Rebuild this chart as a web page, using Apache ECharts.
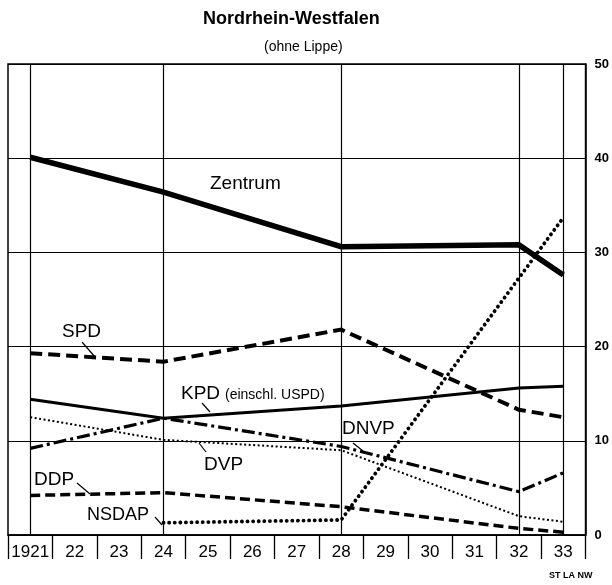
<!DOCTYPE html>
<html>
<head>
<meta charset="utf-8">
<script src="https://cdn.jsdelivr.net/npm/echarts@6/dist/echarts.min.js"></script>
<style>
html,body{margin:0;padding:0;background:#fff;}
#chart{width:612px;height:585px;}
</style>
</head>
<body>
<div id="chart"></div>
<script>
var years = ['1921','22','23','24','25','26','27','28','29','30','31','32','33'];
var gridYears = ['1921','24','28','32','33'];
var yTicks = [0, 10, 20, 30, 40, 50];

var zentrum = [40.1, null, null, 36.4, null, null, null, 30.6, null, null, null, 30.8, 27.6];
var spd     = [19.3, null, null, 18.4, null, null, null, 21.8, null, null, null, 13.3, 12.5];
var kpd     = [14.4, null, null, 12.4, null, null, null, 13.7, null, null, null, 15.6, 15.8];
var dnvp    = [9.2,  null, null, 12.4, null, null, null, 9.4,  null, null, null, 4.6,  6.6];
var dvp     = [12.5, null, null, 10.1, null, null, null, 9.0,  null, null, null, 2.0,  1.4];
var ddp     = [4.2,  null, null, 4.5,  null, null, null, 3.0,  null, null, null, 0.7,  0.3];
var nsdap   = [null, null, null, 1.3,  null, null, null, 1.6,  null, null, null, null, 33.7];

var FONT = 'Liberation Sans, Arial, sans-serif';

function lineSeries(name, data, width, type, cap, z) {
  return {
    name: name, type: 'line', data: data, connectNulls: true,
    symbol: 'none', silent: true, animation: false, z: z || 3,
    lineStyle: { color: '#000', width: width, type: type, cap: cap || 'butt', join: 'miter' }
  };
}

var chart = echarts.init(document.getElementById('chart'), null, {renderer: 'canvas'});

function txt(x, y, s, size, weight, align) {
  return { type: 'text', left: x, top: y, silent: true,
    style: { text: s, fill: '#000', font: (weight || 'normal') + ' ' + size + 'px ' + FONT, textAlign: align || 'left' } };
}
function seg(x1, y1, x2, y2) {
  return { type: 'line', silent: true, shape: {x1: x1, y1: y1, x2: x2, y2: y2}, style: {stroke: '#000', lineWidth: 1.2} };
}

var option = {
  backgroundColor: '#fff',
  animation: false,
  title: [
    { text: 'Nordrhein-Westfalen', left: 198, top: 5,
      textStyle: { fontFamily: FONT, fontWeight: 'bold', fontSize: 18, color: '#000' } },
    { text: '(ohne Lippe)', left: 259, top: 35,
      textStyle: { fontFamily: FONT, fontWeight: 'normal', fontSize: 14, color: '#000' } }
  ],
  grid: { left: 8, right: 26, top: 64, bottom: 50, show: true, borderColor: '#000', borderWidth: 1.5, backgroundColor: 'transparent' },
  xAxis: {
    type: 'category', data: years, boundaryGap: true,
    axisLine: { show: true, lineStyle: { color: '#000', width: 1.5 } },
    axisTick: { show: true, interval: 0, length: 24, lineStyle: { color: '#000', width: 1.3 } },
    axisLabel: { interval: 0, margin: 9, fontFamily: FONT, fontSize: 17, color: '#000' },
    splitLine: { show: false }
  },
  yAxis: {
    type: 'value', position: 'right', min: 0, max: 50, interval: 10,
    axisLine: { show: true, lineStyle: { color: '#000', width: 1.5 } },
    axisTick: { show: false },
    axisLabel: { margin: 9, fontFamily: FONT, fontWeight: 'bold', fontSize: 13, color: '#000',
      formatter: function (v) { return yTicks.indexOf(v) >= 0 ? String(v) : ''; } },
    splitLine: { show: true, lineStyle: { color: '#000', width: 1.2 } }
  },
  series: [
    {
      name: 'grid', type: 'line', data: years.map(function () { return null; }), symbol: 'none', silent: true, z: 1,
      markLine: {
        silent: true, symbol: ['none', 'none'], animation: false,
        label: { show: false },
        lineStyle: { color: '#000', width: 1.2, type: 'solid' },
        data: gridYears.map(function (y) { return { xAxis: y }; })
      }
    },
    lineSeries('Zentrum', zentrum, 5.5, 'solid', 'butt', 5),
    lineSeries('SPD', spd, 4, [12, 6], 'butt', 4),
    lineSeries('KPD', kpd, 3, 'solid', 'butt', 4),
    lineSeries('DNVP', dnvp, 3.2, [13, 4, 3, 4], 'butt', 4),
    lineSeries('DVP', dvp, 2, [2, 2.5], 'butt', 4),
    lineSeries('DDP', ddp, 3.5, [10, 5], 'butt', 4),
    lineSeries('NSDAP', nsdap, 3.8, [0.1, 5.5], 'round', 4)
  ],
  graphic: [
    txt(210, 174, 'Zentrum', 19),
    txt(62, 322, 'SPD', 19),
    seg(82, 342, 95, 357),
    txt(181, 384, 'KPD', 19),
    txt(225, 388, '(einschl. USPD)', 14),
    seg(202, 403, 210, 412),
    txt(342, 419, 'DNVP', 19),
    seg(353, 443, 363, 451),
    txt(204, 455, 'DVP', 19),
    seg(199, 443, 206, 452),
    txt(34, 470, 'DDP', 19),
    seg(77, 483, 90, 494),
    txt(87, 506, 'NSDAP', 18),
    seg(155, 517, 162, 525),
    txt(549, 571, 'ST LA NW', 9, 'bold')
  ]
};
chart.setOption(option);
</script>
</body>
</html>
